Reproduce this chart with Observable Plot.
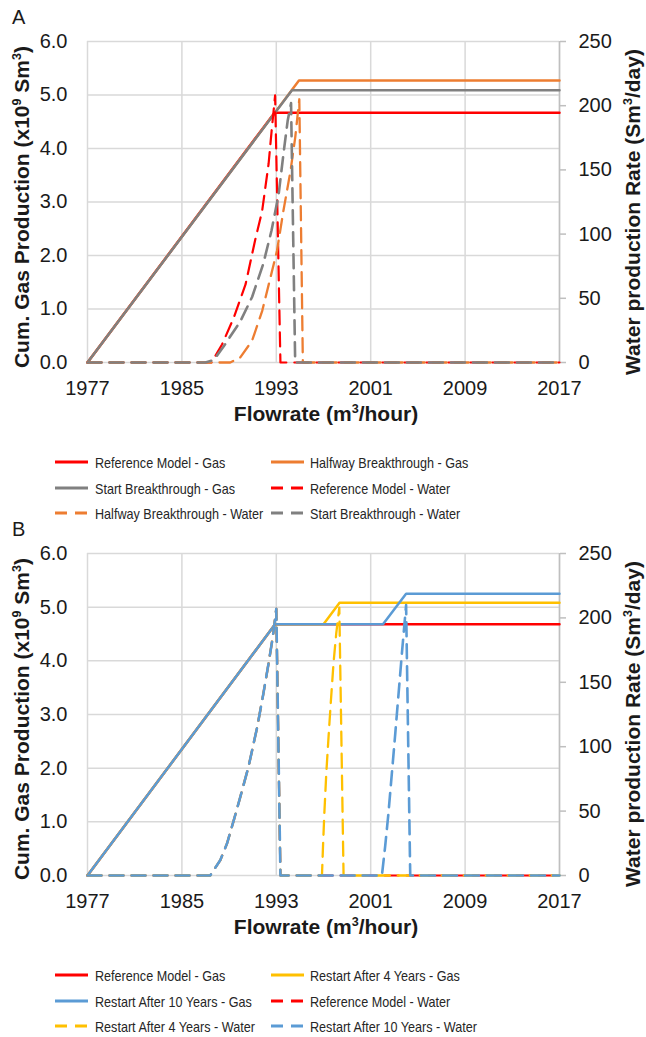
<!DOCTYPE html>
<html><head><meta charset="utf-8">
<script src="https://cdn.jsdelivr.net/npm/d3@7"></script>
<script src="https://cdn.jsdelivr.net/npm/@observablehq/plot@0.6"></script>
<style>
html,body{margin:0;padding:0;background:#fff;overflow:hidden;}
#root{position:relative;width:646px;height:1037px;font-family:"Liberation Sans",Arial,sans-serif;color:#1a1a1a;}
.chart{position:absolute;left:0;}
.ytitle{position:absolute;font-weight:bold;font-size:21px;white-space:nowrap;transform:translate(-50%,-50%) rotate(-90deg);}
.xtitle{position:absolute;font-weight:bold;font-size:21px;white-space:nowrap;transform:translate(-50%,-50%);}
sup{font-size:0.6em;vertical-align:0.65em;line-height:0;}
.panel{position:absolute;font-size:20px;line-height:1;}
.legtext{position:absolute;font-size:15px;white-space:nowrap;transform-origin:left center;transform:translateY(-50%) scaleX(0.84);color:#262626;line-height:1;}
.legsw{position:absolute;}
</style></head>
<body><div id="root"></div>
<script>
// ---------- axes ----------
const xTickYears = [1977, 1985, 1993, 2001, 2009, 2017];
const gasTicks = [0, 1, 2, 3, 4, 5, 6];
const waterTicks = [0, 50, 100, 150, 200, 250];

// ---------- Panel A : cumulative gas (x10^9 Sm3) ----------
const aRefGas   = [[1977, 0], [1992.85, 4.67], [2017, 4.67]];
const aHalfGas  = [[1977, 0], [1994.92, 5.27], [2017, 5.27]];
const aStartGas = [[1977, 0], [1994.33, 5.09], [2017, 5.09]];
// ---------- Panel A : water rate (Sm3/day) ----------
const aRefWater = [[1977, 0], [1987.5, 0], [1988.4, 14], [1989.4, 35], [1990.4, 61], [1991.2, 95],
  [1991.8, 118], [1992.35, 155], [1992.6, 180], [1992.9, 208], [1993.35, 0], [2017, 0]];
const aHalfWater = [[1977, 0], [1989.1, 0], [1989.95, 4], [1990.95, 17], [1991.8, 40], [1992.5, 66],
  [1993.06, 87], [1993.6, 118], [1994.2, 149], [1994.6, 175], [1994.95, 205], [1995.25, 0], [2017, 0]];
const aStartWater = [[1977, 0], [1987.0, 0], [1987.7, 2], [1988.5, 12], [1989.95, 32], [1990.95, 51],
  [1991.9, 77], [1992.6, 103], [1993.2, 131], [1993.6, 162], [1993.96, 188], [1994.25, 202], [1994.6, 0], [2017, 0]];

// ---------- Panel B : cumulative gas ----------
const bRefGas  = [[1977, 0], [1992.9, 4.68], [2017, 4.68]];
const b4Gas    = [[1977, 0], [1992.9, 4.68], [1997.0, 4.68], [1998.36, 5.08], [2017, 5.08]];
const b10Gas   = [[1977, 0], [1992.9, 4.68], [2002.04, 4.68], [2004.0, 5.25], [2017, 5.25]];
// ---------- Panel B : water rate ----------
const bRefWater = [[1977, 0], [1987.4, 0], [1988.26, 12], [1988.83, 25], [1989.4, 43], [1989.95, 61],
  [1990.66, 85], [1991.4, 116], [1991.9, 141], [1992.35, 165], [1992.7, 185], [1993.0, 207], [1993.35, 0], [2017, 0]];
const b4Water = [[1977, 0], [1987.4, 0], [1988.26, 12], [1988.83, 25], [1989.4, 43], [1989.95, 61],
  [1990.66, 85], [1991.4, 116], [1991.9, 141], [1992.35, 165], [1992.7, 185], [1993.0, 207], [1993.35, 0],
  [1996.87, 0], [1996.96, 23], [1997.07, 48], [1997.24, 80], [1997.43, 108], [1997.63, 136], [1997.85, 165],
  [1998.08, 188], [1998.34, 208], [1998.7, 0], [2017, 0]];
const b10Water = [[1977, 0], [1987.4, 0], [1988.26, 12], [1988.83, 25], [1989.4, 43], [1989.95, 61],
  [1990.66, 85], [1991.4, 116], [1991.9, 141], [1992.35, 165], [1992.7, 185], [1993.0, 207], [1993.35, 0],
  [2001.95, 0], [2002.23, 23], [2002.5, 48], [2002.8, 80], [2003.08, 110], [2003.36, 141], [2003.64, 172],
  [2004.0, 210], [2004.35, 0], [2017, 0]];

// ---------- series names / colours ----------
const aNames = ["Reference Model - Gas", "Halfway Breakthrough - Gas", "Start Breakthrough - Gas",
  "Reference Model - Water", "Halfway Breakthrough - Water", "Start Breakthrough - Water"];
const aColors = ["#FF0000", "#ED7D31", "#808080", "#FF0000", "#ED7D31", "#808080"];
const bNames = ["Reference Model - Gas", "Restart After 4 Years - Gas", "Restart After 10 Years - Gas",
  "Reference Model - Water", "Restart After 4 Years - Water", "Restart After 10 Years - Water"];
const bColors = ["#FF0000", "#FFC000", "#5B9BD5", "#FF0000", "#FFC000", "#5B9BD5"];

const K = 6 / 250; // secondary axis: water rate mapped onto gas scale
const waterWidths = [2.2, 2.3, 2.6];

function chart(gasSeries, waterSeries, colors, marginBottom) {
  const marks = [
    Plot.gridX(xTickYears, {stroke: "#d9d9d9", strokeOpacity: 1, strokeWidth: 1.5}),
    Plot.gridY(gasTicks, {stroke: "#d9d9d9", strokeOpacity: 1, strokeWidth: 1.5}),
    Plot.ruleX([2017], {stroke: "#bfbfbf", strokeWidth: 1.5}),
    Plot.axisX(xTickYears, {tickSize: 0, tickPadding: 18, tickFormat: d => String(d), label: null, fill: "#1a1a1a"}),
    Plot.axisY(gasTicks, {anchor: "left", tickSize: 0, tickPadding: 20, tickFormat: d => d.toFixed(1), label: null, fill: "#1a1a1a"}),
    Plot.axisY(waterTicks.map(w => w * K), {anchor: "right", tickSize: 6, tickPadding: 13,
      tickFormat: d => String(Math.round(d / K)), label: null, stroke: "#bfbfbf", strokeWidth: 1.5, fill: "#1a1a1a"})
  ];
  gasSeries.forEach((s, i) => marks.push(Plot.line(s, {x: d => d[0], y: d => d[1], stroke: colors[i], strokeWidth: 2.5})));
  waterSeries.forEach((s, i) => marks.push(Plot.line(s, {x: d => d[0], y: d => d[1] * K, stroke: colors[i + 3],
    strokeWidth: waterWidths[i], strokeDasharray: "14,8"})));
  return Plot.plot({
    width: 646, height: 400, marginTop: 41, marginBottom, marginLeft: 87, marginRight: 87,
    x: {domain: [1977, 2017]}, y: {domain: [0, 6]},
    style: {fontFamily: "'Liberation Sans', Arial, sans-serif", fontSize: "20px", background: "transparent", color: "#1a1a1a"},
    marks
  });
}

const root = document.getElementById("root");
function add(html) { const d = document.createElement("div"); d.innerHTML = html; const el = d.firstElementChild; root.appendChild(el); return el; }

function panel(top, label, gas, water, colors, names, mb, legendTop) {
  const c = chart(gas, water, colors, mb);
  c.classList.add("chart");
  c.style.position = "absolute"; c.style.top = top + "px"; c.style.left = "0px";
  root.appendChild(c);
  const plotTop = top + 41, plotBottom = top + 400 - mb, mid = (plotTop + plotBottom) / 2;
  add(`<div class="panel" style="left:12px;top:${top + 7}px">${label}</div>`);
  add(`<div class="ytitle" style="left:22px;top:${mid + 5}px">Cum. Gas Production (x10<sup>9</sup> Sm<sup>3</sup>)</div>`);
  add(`<div class="ytitle" style="left:633px;top:${mid + 10}px">Water production Rate (Sm<sup>3</sup>/day)</div>`);
  add(`<div class="xtitle" style="left:326px;top:${plotBottom + 52}px">Flowrate (m<sup>3</sup>/hour)</div>`);
  const rowGap = 25.5;
  names.forEach((n, i) => {
    const row = Math.floor(i / 2), col = i % 2;
    const y = legendTop + row * rowGap;
    const sx = col === 0 ? 55 : 271, tx = col === 0 ? 95 : 310;
    const dash = i >= 3 ? 'stroke-dasharray="12,8"' : "";
    add(`<svg class="legsw" width="34" height="6" style="left:${sx}px;top:${y - 3}px"><line x1="0" y1="3" x2="33" y2="3" stroke="${colors[i]}" stroke-width="3" ${dash}/></svg>`);
    add(`<div class="legtext" style="left:${tx}px;top:${y}px">${n}</div>`);
  });
}

panel(0, "A", [aRefGas, aHalfGas, aStartGas], [aRefWater, aHalfWater, aStartWater], aColors, aNames, 38, 462);
panel(512, "B", [bRefGas, b4Gas, b10Gas], [bRefWater, b4Water, b10Water], bColors, bNames, 37, 975);
</script>
</body></html>
